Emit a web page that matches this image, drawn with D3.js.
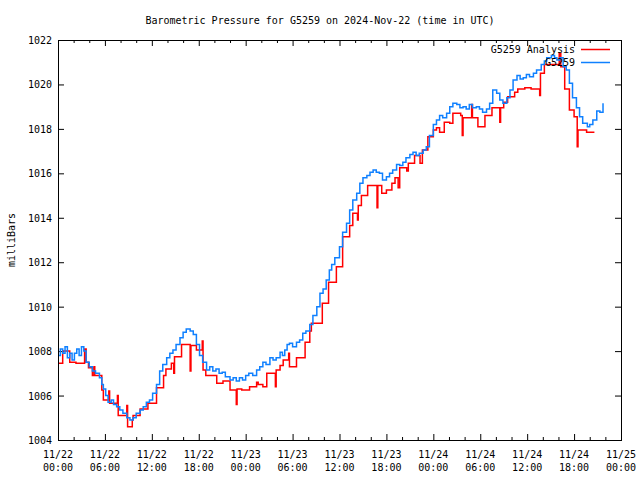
<!DOCTYPE html>
<html>
<head>
<meta charset="utf-8">
<script src="https://cdn.jsdelivr.net/npm/d3@7"></script>
<style>
  body { margin: 0; background: #fff; }
  text { font-family: "DejaVu Sans Mono", monospace; font-size: 10px; fill: #000; }
</style>
</head>
<body>
<div id="chart"></div>
<script>
// Data: hours since 2024-11-22 00:00 UTC, pressure in mb
const blueHours = [0.0,0.3,0.6,0.9,1.2,1.5,1.8,2.1,2.4,2.7,3.0,3.3,3.6,4.0,4.4,4.8,5.3,5.6,5.8,6.1,
  6.4,6.8,7.1,7.5,7.9,8.3,8.8,9.2,9.6,10.0,10.5,10.9,11.3,11.7,12.1,12.6,13.0,13.4,13.9,14.3,
  14.7,15.1,15.6,16.0,16.4,16.9,17.3,17.7,18.1,18.5,19.0,19.4,19.8,20.2,20.6,21.0,21.4,22.0,22.4,22.8,
  23.2,23.6,24.0,24.4,24.9,25.4,25.8,26.2,26.6,27.1,27.5,27.9,28.4,28.7,29.0,29.3,29.6,30.0,30.5,30.9,
  31.3,31.7,32.2,32.6,33.1,33.5,33.9,34.3,34.7,35.0,35.4,36.0,36.4,36.9,37.3,37.7,38.2,38.6,39.0,39.5,
  39.9,40.3,40.7,41.1,41.5,42.0,42.4,42.8,43.3,43.7,44.1,44.5,45.0,45.4,45.8,46.2,46.7,47.1,47.5,48.0,
  48.4,48.8,49.2,49.7,50.1,50.5,51.0,51.4,51.8,52.2,52.6,53.0,53.5,53.9,54.3,54.8,55.2,55.6,56.1,56.5,
  56.9,57.4,57.8,58.2,58.7,59.1,59.5,59.9,60.3,60.8,61.2,61.8,62.2,62.5,63.1,63.5,63.8,64.2,64.6,65.0,
  65.4,65.8,66.3,66.7,67.1,67.7,68.0,68.4,68.9,69.3,69.7];
const bluePressure = [1007.8,1008.1,1007.9,1008.2,1007.7,1007.9,1007.6,1007.9,1008.1,1007.8,1008.2,1008.0,1007.5,1007.3,1007.1,1007.0,1006.8,1006.5,1006.3,1006.0,
  1005.7,1005.8,1005.6,1005.5,1005.35,1005.2,1005.0,1004.9,1005.0,1005.2,1005.35,1005.5,1005.7,1005.8,1006.1,1006.5,1007.1,1007.4,1007.7,1007.9,
  1008.05,1008.3,1008.6,1008.85,1009.0,1008.9,1008.75,1008.3,1007.8,1007.5,1007.15,1007.3,1007.1,1007.2,1007.0,1007.05,1006.85,1006.7,1006.8,1006.65,
  1006.8,1006.7,1006.9,1007.0,1006.9,1007.15,1007.3,1007.5,1007.4,1007.7,1007.6,1007.7,1007.95,1007.8,1008.05,1008.3,1008.35,1008.2,1008.4,1008.5,
  1008.8,1008.9,1009.2,1009.6,1010.0,1010.6,1010.8,1011.2,1011.65,1011.9,1012.2,1012.7,1013.35,1013.75,1014.35,1014.8,1015.1,1015.55,1015.8,1015.9,
  1016.05,1016.15,1016.05,1016.0,1015.7,1015.85,1016.0,1016.15,1016.4,1016.35,1016.5,1016.7,1016.85,1016.95,1016.8,1016.9,1017.05,1017.2,1017.7,1018.2,
  1018.4,1018.6,1018.5,1018.7,1019.0,1019.15,1019.1,1018.95,1019.0,1018.9,1019.1,1018.95,1019.0,1018.9,1018.75,1018.9,1019.15,1019.75,1019.6,1019.3,
  1019.15,1019.4,1019.75,1020.2,1020.4,1020.25,1020.3,1020.45,1020.35,1020.5,1020.65,1020.9,1021.05,1021.2,1021.3,1021.2,1021.1,1021.2,1020.8,1020.65,
  1020.05,1019.4,1018.95,1018.55,1018.25,1018.1,1018.2,1018.4,1018.8,1018.75,1019.15];

const redHours = [0.0,0.6,1.5,2.3,3.4,3.6,3.9,4.4,4.6,4.7,5.6,5.8,6.5,6.6,7.6,7.7,8.8,8.9,9.5,9.6,
  10.5,11.5,12.6,13.5,13.8,14.5,14.8,14.9,15.8,16.9,17.0,17.7,18.45,18.55,18.9,20.3,21.1,22.0,22.8,22.9,
  23.5,24.5,25.4,25.6,26.2,26.7,27.8,27.9,28.4,28.8,29.5,29.6,30.5,31.6,32.2,32.4,33.8,34.6,35.6,36.4,
  37.3,37.7,38.3,38.4,38.8,39.6,40.8,40.9,41.4,42.0,42.7,43.1,43.5,43.7,44.6,44.8,45.6,46.3,46.6,47.3,
  48.0,48.4,48.8,49.4,50.1,50.5,51.5,51.7,51.8,52.9,53.0,53.7,54.6,55.5,56.5,56.6,57.0,57.5,58.4,58.8,
  59.7,60.5,61.6,61.7,62.2,64.1,64.3,64.8,65.4,66.0,66.4,66.5,67.6,68.6];
const redPressure = [1007.45,1008.0,1007.5,1007.45,1008.1,1007.5,1007.25,1006.9,1007.3,1006.9,1006.25,1005.8,1006.2,1005.65,1006.0,1005.1,1005.55,1004.6,1004.9,1005.1,
  1005.4,1005.65,1006.35,1006.9,1007.2,1007.45,1007.0,1007.75,1008.3,1007.1,1008.25,1008.05,1008.45,1007.15,1006.9,1006.55,1006.65,1006.25,1005.6,1006.3,
  1006.25,1006.4,1006.6,1006.5,1006.4,1007.0,1006.4,1007.15,1007.35,1007.6,1007.9,1007.3,1007.7,1008.4,1008.9,1009.25,1010.15,1011.1,1011.8,1013.15,
  1013.65,1014.2,1013.9,1014.55,1015.0,1015.45,1014.45,1015.45,1015.1,1015.25,1015.55,1015.8,1015.35,1016.25,1016.1,1016.45,1016.8,1016.45,1017.05,1017.65,
  1017.95,1018.05,1017.85,1018.3,1018.25,1018.7,1018.6,1017.7,1018.5,1019.1,1018.5,1018.1,1018.6,1018.95,1018.3,1018.95,1019.2,1019.45,1019.65,1019.8,
  1019.85,1019.8,1019.5,1020.5,1020.9,1021.4,1020.8,1019.8,1018.85,1018.55,1017.2,1017.95,1017.85,1017.85];

const yTicks = [1004, 1006, 1008, 1010, 1012, 1014, 1016, 1018, 1020, 1022];
const xMajorHours = [0, 6, 12, 18, 24, 30, 36, 42, 48, 54, 60, 66, 72];
const xLabelDates = ["11/22","11/22","11/22","11/22","11/23","11/23","11/23","11/23","11/24","11/24","11/24","11/24","11/25"];
const xLabelTimes = ["00:00","06:00","12:00","18:00","00:00","06:00","12:00","18:00","00:00","06:00","12:00","18:00","00:00"];
const seriesNames = ["G5259 Analysis", "G5259"];
const seriesColors = ["#ff0000", "#0f80ff"];

const width = 640, height = 480;
const margin = { top: 40, right: 19, bottom: 40, left: 58 };

const svg = d3.select("#chart").append("svg")
  .attr("width", width)
  .attr("height", height);

const x = d3.scaleLinear().domain([0, 72]).range([margin.left, width - margin.right]);
const y = d3.scaleLinear().domain([1004, 1022]).range([height - margin.bottom, margin.top]);

// Title
svg.append("text")
  .attr("x", 320).attr("y", 24)
  .attr("text-anchor", "middle")
  .text("Barometric Pressure for G5259 on 2024-Nov-22 (time in UTC)");

// Y axis label
svg.append("text")
  .attr("transform", "translate(15,240) rotate(-90)")
  .attr("text-anchor", "middle")
  .text("milliBars");

// Ticks (inward, mirrored on all sides)
const minorHours = d3.range(0, 73, 2).filter(h => h % 6 !== 0);

function tickAxis(axis, transform) {
  const g = svg.append("g").attr("transform", transform).call(axis);
  g.select(".domain").remove();
  g.selectAll("text").remove();
  g.selectAll("line").attr("stroke", "#000");
  return g;
}
tickAxis(d3.axisBottom(x).tickValues(xMajorHours).tickSize(-6), `translate(0,${height - margin.bottom})`);
tickAxis(d3.axisBottom(x).tickValues(minorHours).tickSize(-3), `translate(0,${height - margin.bottom})`);
tickAxis(d3.axisTop(x).tickValues(xMajorHours).tickSize(-6), `translate(0,${margin.top})`);
tickAxis(d3.axisTop(x).tickValues(minorHours).tickSize(-3), `translate(0,${margin.top})`);
tickAxis(d3.axisLeft(y).tickValues(yTicks).tickSize(-6), `translate(${margin.left},0)`);
tickAxis(d3.axisRight(y).tickValues(yTicks).tickSize(-6), `translate(${width - margin.right},0)`);

// Y tick labels
svg.append("g").selectAll("text")
  .data(yTicks)
  .enter().append("text")
    .attr("x", margin.left - 6)
    .attr("y", d => y(d) + 4)
    .attr("text-anchor", "end")
    .text(d => d);

// X tick labels, two lines
const xl = svg.append("g").selectAll("text")
  .data(xMajorHours)
  .enter().append("text")
    .attr("text-anchor", "middle");
xl.append("tspan")
  .attr("x", d => x(d)).attr("y", 458)
  .text((d, i) => xLabelDates[i]);
xl.append("tspan")
  .attr("x", d => x(d)).attr("y", 471)
  .text((d, i) => xLabelTimes[i]);

// Lines
const line = d3.line()
  .x(d => x(d[0]))
  .y(d => y(d[1]))
  .curve(d3.curveStepAfter);

const redData = redHours.map((h, i) => [h, redPressure[i]]);
const blueData = blueHours.map((h, i) => [h, bluePressure[i]]);

[redData, blueData].forEach((data, i) => {
  svg.append("path")
    .datum(data)
    .attr("fill", "none")
    .attr("stroke", seriesColors[i])
    .attr("stroke-width", 1.5)
    .attr("d", line);
});

// Frame
svg.append("rect")
  .attr("x", margin.left + 0.5).attr("y", margin.top + 0.5)
  .attr("width", width - margin.left - margin.right)
  .attr("height", height - margin.top - margin.bottom)
  .attr("fill", "none")
  .attr("stroke", "#000");

// Legend
const legend = svg.append("g");
seriesNames.forEach((name, i) => {
  const ly = 49 + i * 13;
  legend.append("text")
    .attr("x", 575).attr("y", ly + 4)
    .attr("text-anchor", "end")
    .text(name);
  legend.append("line")
    .attr("x1", 581).attr("x2", 610)
    .attr("y1", ly + 0.5).attr("y2", ly + 0.5)
    .attr("stroke", seriesColors[i])
    .attr("stroke-width", 1.5);
});
</script>
</body>
</html>
